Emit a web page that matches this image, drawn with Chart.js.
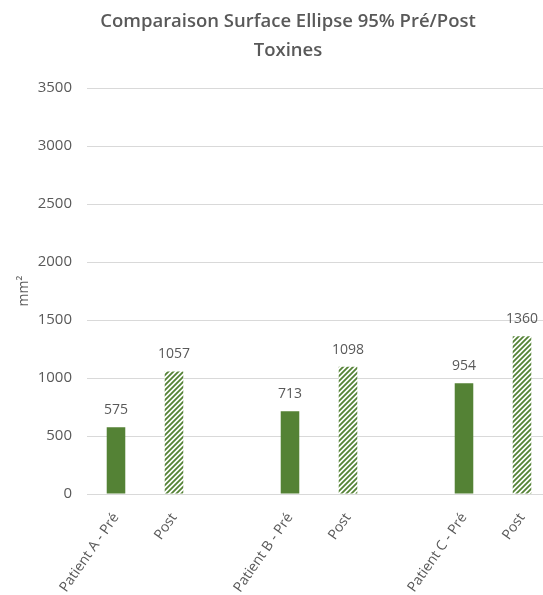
<!DOCTYPE html>
<html>
<head>
<meta charset="utf-8">
<script src="https://cdn.jsdelivr.net/npm/chart.js@4"></script>
<style>
  html, body { margin: 0; padding: 0; background: #fff; overflow: hidden; }
  #wrap { position: absolute; left: 0; top: 0; width: 575px; height: 595px; }
</style>
</head>
<body>
<div id="wrap"><canvas id="chart"></canvas></div>
<script>
// categories (empty slots keep the gap between patients)
const categories = ['Patient A - Pré', 'Post', '', 'Patient B - Pré', 'Post', '', 'Patient C - Pré', 'Post'];
const surfaces = [575, 1057, null, 713, 1098, null, 954, 1360];
const phases = ['pre', 'post', '', 'pre', 'post', '', 'pre', 'post'];
const yTicks = [0, 500, 1000, 1500, 2000, 2500, 3000, 3500];
const titre = ['Comparaison Surface Ellipse 95% Pré/Post', 'Toxines'];

const vert = '#548235';
const gris = '#595959';
const police = '"Open Sans", sans-serif';

function hachures() {
    const c = document.createElement('canvas');
    c.width = 5;
    c.height = 5;
    const ctx = c.getContext('2d');
    ctx.fillStyle = '#fff';
    ctx.fillRect(0, 0, 5, 5);
    ctx.strokeStyle = vert;
    ctx.lineWidth = 1.8;
    ctx.beginPath();
    ctx.moveTo(-1, 6); ctx.lineTo(6, -1);
    ctx.moveTo(-1, 1); ctx.lineTo(1, -1);
    ctx.moveTo(4, 6); ctx.lineTo(6, 4);
    ctx.stroke();
    return ctx.createPattern(c, 'repeat');
}

const motif = hachures();

// titre dessiné à la main (centré sur toute la largeur du graphique d'origine)
const titrePlugin = {
    id: 'titrePlugin',
    afterDraw(chart) {
        const ctx = chart.ctx;
        ctx.save();
        ctx.fillStyle = gris;
        ctx.font = '600 18.5px ' + police;
        ctx.textAlign = 'center';
        ctx.textBaseline = 'middle';
        titre.forEach((ligne, i) => ctx.fillText(ligne, 288, 22 + i * 29));
        ctx.restore();
    }
};

const etiquettes = {
    id: 'etiquettes',
    afterDatasetsDraw(chart) {
        const ctx = chart.ctx;
        const meta = chart.getDatasetMeta(0);
        ctx.save();
        ctx.fillStyle = gris;
        ctx.font = '14px ' + police;
        ctx.textAlign = 'center';
        ctx.textBaseline = 'middle';
        meta.data.forEach((bar, i) => {
            if (surfaces[i] == null) return;
            ctx.fillText(surfaces[i], bar.x, bar.y - 17);
        });
        ctx.restore();
    }
};

new Chart(document.getElementById('chart'), {
    type: 'bar',
    data: {
        labels: categories,
        datasets: [{
            data: surfaces,
            backgroundColor: phases.map(p => p === 'post' ? motif : vert),
            borderWidth: 0,
            categoryPercentage: 1,
            barPercentage: 0.32
        }]
    },
    options: {
        responsive: true,
        maintainAspectRatio: false,
        animation: false,
        layout: { padding: { top: 88, right: 24, left: 12, bottom: 0 } },
        plugins: {
            legend: { display: false },
            tooltip: { enabled: false },
            title: { display: false }
        },
        scales: {
            x: {
                grid: { display: false },
                border: { display: false },
                ticks: {
                    color: gris,
                    font: { family: police, size: 14 },
                    minRotation: 55,
                    maxRotation: 55,
                    padding: 8,
                    autoSkip: false
                },
                afterFit(scale) { scale.height = 101; }
            },
            y: {
                min: 0,
                max: 3500,
                afterBuildTicks(scale) { scale.ticks = yTicks.map(v => ({ value: v })); },
                grid: { color: '#d9d9d9', drawTicks: false },
                border: { display: false },
                ticks: {
                    color: gris,
                    font: { family: police, size: 15 },
                    padding: 15,
                    callback: v => String(v)
                },
                title: {
                    display: true,
                    text: 'mm²',
                    color: gris,
                    font: { family: police, size: 14 }
                },
                afterFit(scale) { scale.width = 75; }
            }
        }
    },
    plugins: [etiquettes, titrePlugin]
});
</script>
</body>
</html>
